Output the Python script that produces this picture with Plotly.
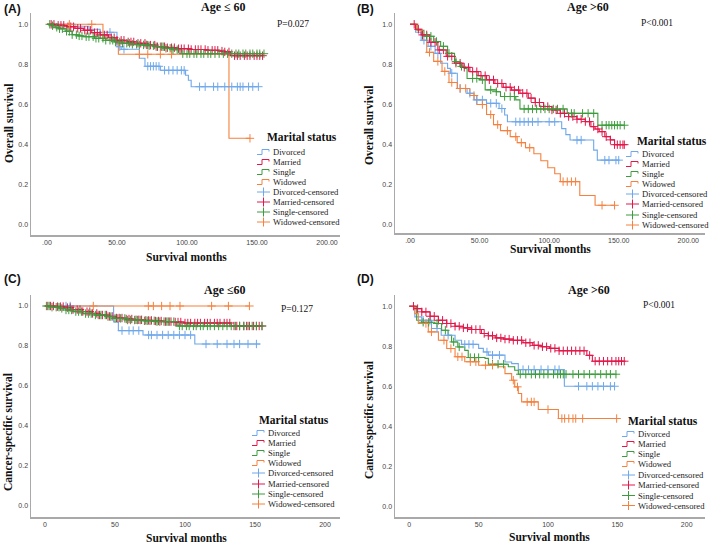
import numpy as np
import plotly.graph_objects as go

W, H = 709, 544

groups = ["Divorced", "Married", "Single", "Widowed"]
legend_labels = ["Divorced", "Married", "Single", "Widowed",
                 "Divorced-censored", "Married-censored", "Single-censored", "Widowed-censored"]
colors = {"Divorced": "#6fa8ea", "Married": "#e0184a", "Single": "#3c9c3c", "Widowed": "#f5813f"}

# ---------------- Panel A: Overall survival, Age <= 60 ----------------
A_div_t = [0, 20, 30, 38, 50, 53, 66, 70, 81, 99, 101, 103]
A_div_s = [1.0, 0.99, 0.975, 0.96, 0.888, 0.875, 0.83, 0.79, 0.77, 0.745, 0.72, 0.688]
A_div_end = 151
A_div_c = [45, 52, 55, 72, 74, 76, 78, 80, 84, 87, 90, 93, 96, 98, 109, 113, 119, 122, 127, 132, 136, 138, 140, 144, 147, 151]

A_mar_t = [0, 7, 14, 20, 26, 32, 38, 44, 50, 57, 64, 71, 78, 85, 93, 103, 114, 123, 127, 131]
A_mar_s = [1.0, 0.995, 0.988, 0.98, 0.97, 0.958, 0.947, 0.933, 0.92, 0.912, 0.905, 0.896, 0.888, 0.883, 0.878, 0.874, 0.87, 0.866, 0.862, 0.843]
A_mar_end = 154
A_mar_c = [3, 5, 8, 10, 12, 15, 17, 19, 22, 24, 27, 29, 31, 34, 36, 38, 41, 43, 46, 48, 50, 53, 55, 58, 60, 62,
           65, 67, 70, 72, 74, 77, 79, 82, 84, 86, 89, 91, 94, 96, 98, 101, 103, 106, 108, 110, 113, 115, 118,
           120, 122, 125, 127, 130, 134, 136, 138, 141, 143, 145, 148, 150, 152, 154]

A_sin_t = [0, 3, 6, 9, 13, 18, 22, 26, 34, 42, 48, 54, 60, 66, 72, 78, 84, 90, 95]
A_sin_s = [1.0, 0.993, 0.985, 0.978, 0.965, 0.948, 0.942, 0.938, 0.93, 0.92, 0.912, 0.905, 0.9, 0.897, 0.893, 0.888, 0.88, 0.873, 0.853]
A_sin_end = 155
A_sin_c = [2, 4, 7, 9, 11, 14, 16, 18, 21, 23, 25, 28, 30, 33, 35, 37, 40, 42, 45, 47, 49, 52, 54, 57, 59, 61,
           64, 66, 69, 71, 73, 76, 78, 81, 83, 85, 88, 90, 93, 97, 100, 102, 105, 107, 110, 112, 115, 117, 120,
           123, 126, 129, 132, 135, 137, 140, 142, 145, 147, 150, 152, 155]

A_wid_t = [0, 40, 51, 130]
A_wid_s = [1.0, 0.92, 0.85, 0.43]
A_wid_end = 145
A_wid_c = [16, 32, 66, 72, 81, 89, 145]

# ---------------- Panel B: Overall survival, Age > 60 ----------------
B_div_t = [0, 4, 8, 13, 18, 22, 27, 29, 34, 41, 46, 55, 64, 68, 70, 109, 112, 115, 132, 134.6]
B_div_s = [1.0, 0.96, 0.92, 0.89, 0.855, 0.806, 0.78, 0.756, 0.68, 0.656, 0.623, 0.606, 0.58, 0.548, 0.514, 0.48, 0.45, 0.423, 0.373, 0.323]
B_div_end = 150
B_div_c = [10, 15, 20, 30, 36, 43, 48, 52, 58, 62, 66, 76, 79, 82, 85, 88, 92, 100, 104, 120, 123, 140, 143, 148, 150]

B_mar_t = [0, 4, 8, 14, 20, 26, 32, 38, 43, 49, 55, 61, 67, 73, 79, 85, 90, 96, 102, 108, 114, 120, 126, 130, 133, 136, 140, 144, 147]
B_mar_s = [1.0, 0.975, 0.947, 0.91, 0.872, 0.84, 0.806, 0.785, 0.764, 0.744, 0.723, 0.705, 0.686, 0.672, 0.656, 0.632, 0.61,
           0.59, 0.573, 0.556, 0.54, 0.527, 0.515, 0.49, 0.478, 0.465, 0.44, 0.424, 0.4]
B_mar_end = 154
B_mar_c = [3, 6, 9, 12, 15, 18, 21, 24, 27, 30, 33, 36, 39, 42, 45, 48, 51, 54, 57, 60, 63, 66, 69, 72, 75, 78, 81,
           84, 87, 90, 93, 96, 99, 102, 105, 108, 111, 114, 117, 120, 123, 126, 129, 132, 135, 138, 141, 144, 147,
           149, 151, 153, 154]

B_sin_t = [0, 5, 10, 17, 22, 27, 32, 36, 39, 41, 50, 54, 62, 65, 76, 79, 113, 135]
B_sin_s = [1.0, 0.97, 0.94, 0.914, 0.89, 0.855, 0.814, 0.79, 0.78, 0.73, 0.723, 0.673, 0.664, 0.64, 0.623, 0.578, 0.556, 0.497]
B_sin_end = 154
B_sin_c = [12, 15, 19, 24, 28, 33, 37, 45, 48, 52, 58, 62, 68, 72, 75, 82, 85, 88, 91, 94, 97, 100, 103, 106, 110,
           116, 118, 124, 128, 132, 138, 141, 143, 145, 147, 149, 151, 154]

B_wid_t = [0, 5, 9, 12, 17, 23, 28, 34, 43, 48, 55, 60, 65, 72, 77, 83, 89, 94, 99, 104, 108, 122, 133]
B_wid_s = [1.0, 0.97, 0.92, 0.86, 0.815, 0.765, 0.71, 0.68, 0.645, 0.6, 0.55, 0.5, 0.47, 0.44, 0.41, 0.385, 0.355,
           0.32, 0.285, 0.255, 0.216, 0.147, 0.098]
B_wid_end = 147
B_wid_c = [14, 20, 25, 30, 36, 40, 46, 52, 58, 63, 70, 76, 80, 86, 110, 113, 116, 119, 138, 147]

# ---------------- Panel C: Cancer-specific survival, Age <= 60 ----------------
C_div_t = [0, 49, 52.4, 70, 107]
C_div_s = [1.0, 0.92, 0.877, 0.855, 0.81]
C_div_end = 153.6
C_div_c = [15, 18, 55, 60, 63, 67, 74, 76, 80, 84, 88, 92, 96, 100, 104, 115, 123, 130, 135, 139, 145, 151]

C_mar_t = [0, 8, 15, 20, 27, 33, 39, 45, 51, 57, 63, 70, 77, 85, 92, 99, 133]
C_mar_s = [1.0, 0.997, 0.992, 0.982, 0.972, 0.963, 0.955, 0.948, 0.94, 0.935, 0.931, 0.928, 0.925, 0.922, 0.92, 0.915, 0.9]
C_mar_end = 155
C_mar_c = [2, 4, 6, 9, 11, 13, 16, 18, 20, 23, 25, 27, 30, 32, 34, 37, 39, 41, 44, 46, 48, 51, 53, 55, 58, 60, 62,
           65, 67, 69, 72, 74, 76, 79, 81, 83, 86, 88, 90, 93, 95, 97, 100, 102, 104, 107, 109, 111, 114, 116, 118,
           121, 123, 125, 128, 130, 132, 135, 137, 139, 142, 144, 146, 149, 151, 153, 155]

C_sin_t = [0, 5, 10.7, 15, 20, 27, 35, 44, 50, 58.8, 70, 80, 94]
C_sin_s = [1.0, 0.994, 0.988, 0.98, 0.972, 0.962, 0.955, 0.947, 0.938, 0.93, 0.926, 0.922, 0.9]
C_sin_end = 155
C_sin_c = [1, 3, 5, 8, 10, 12, 15, 17, 19, 22, 24, 26, 29, 31, 33, 36, 38, 40, 43, 45, 47, 50, 52, 54, 57, 59, 61,
           64, 66, 68, 71, 73, 75, 78, 80, 82, 85, 87, 89, 92, 96, 98, 101, 103, 106, 108, 111, 113, 116, 118, 121,
           124, 127, 130, 133, 136, 139, 142, 145, 148, 151, 155]

C_wid_t = [0]
C_wid_s = [1.0]
C_wid_end = 146
C_wid_c = [34.5, 73.8, 77.4, 83.3, 89.3, 96.4, 119, 131, 146]

# ---------------- Panel D: Cancer-specific survival, Age > 60 ----------------
D_div_t = [0, 4, 9, 16, 23, 33, 37.7, 50, 53.4, 57, 69, 73.8, 78.6, 111.8]
D_div_s = [1.0, 0.947, 0.93, 0.889, 0.855, 0.83, 0.81, 0.79, 0.772, 0.756, 0.722, 0.714, 0.684, 0.601]
D_div_end = 148
D_div_c = [10, 15, 20, 28, 40, 43, 46, 56, 60, 65, 82, 86, 90, 95, 100, 105, 108, 122, 128, 132, 136, 140, 145, 148]

D_mar_t = [0, 4, 9, 15, 21, 27, 33, 39, 45, 52, 57, 62, 68, 75, 82, 89, 95, 101, 108, 128, 132]
D_mar_s = [1.0, 0.988, 0.972, 0.95, 0.93, 0.914, 0.9, 0.892, 0.884, 0.864, 0.853, 0.842, 0.836, 0.83, 0.818, 0.805,
           0.798, 0.79, 0.778, 0.755, 0.726]
D_mar_end = 155
D_mar_c = [3, 6, 9, 12, 15, 18, 21, 24, 27, 30, 33, 36, 39, 42, 45, 48, 51, 54, 57, 60, 63, 66, 69, 72, 75, 78, 81,
           84, 87, 90, 93, 96, 99, 102, 105, 108, 111, 114, 117, 120, 123, 126, 130, 134, 137, 140, 143, 146, 149,
           151, 153, 155]

D_sin_t = [0, 5.3, 8.9, 18.5, 23.3, 28, 30.5, 35, 40, 42.5, 54.6, 57, 71.4, 76, 78.6]
D_sin_s = [1.0, 0.93, 0.92, 0.914, 0.88, 0.855, 0.822, 0.797, 0.78, 0.744, 0.74, 0.711, 0.698, 0.681, 0.661]
D_sin_end = 149.5
D_sin_c = [10, 14, 20, 26, 32, 36, 44, 47, 50, 60, 64, 68, 80, 84, 88, 91, 94, 97, 100, 104, 107, 109, 111, 113,
           118, 122, 126, 130, 134, 138, 142, 145, 149]

D_wid_t = [0, 4, 6.5, 13.7, 21, 27, 33, 40, 50, 64, 69, 73.8, 76, 78.6, 81, 93, 107.5]
D_wid_s = [1.0, 0.963, 0.914, 0.872, 0.83, 0.789, 0.748, 0.723, 0.706, 0.698, 0.664, 0.631, 0.598, 0.565, 0.523, 0.485, 0.44]
D_wid_end = 149.5
D_wid_c = [12, 16, 25, 30, 35, 38, 44, 48, 55, 60, 75, 78, 85, 88, 90, 100, 110, 112, 115, 118, 120, 125, 149.5]

# tick labels
ab_xticks = [0, 50, 100, 150, 200]
ab_xlabels = [".00", "50.00", "100.00", "150.00", "200.00"]
cd_xlabels = ["0", "50", "100", "150", "200"]
yticks = [0.0, 0.2, 0.4, 0.6, 0.8, 1.0]
ylabels = ["0.0", "0.2", "0.4", "0.6", "0.8", "1.0"]

panels = [
    dict(label="(A)", title="Age ≤ 60", p="P=0.027", ytitle="Overall survival", xlabels=ab_xlabels,
         curves={"Divorced": (A_div_t, A_div_s, A_div_end, A_div_c), "Married": (A_mar_t, A_mar_s, A_mar_end, A_mar_c),
                 "Single": (A_sin_t, A_sin_s, A_sin_end, A_sin_c), "Widowed": (A_wid_t, A_wid_s, A_wid_end, A_wid_c)},
         box=(31, 13, 340, 235), xr=(-11.4, 209.3), yr=(-0.0535, 1.0565),
         lab=(3, 9), tit=(223.5, 7), pv=(293, 24), xt=(186, 257), yt=(9, 123),
         leg_title=(302, 137), leg_y=[152, 162, 172, 182, 192, 202, 212, 222], leg_x=257),
    dict(label="(B)", title="Age >60", p="P<0.001", ytitle="Overall survival", xlabels=ab_xlabels,
         curves={"Divorced": (B_div_t, B_div_s, B_div_end, B_div_c), "Married": (B_mar_t, B_mar_s, B_mar_end, B_mar_c),
                 "Single": (B_sin_t, B_sin_s, B_sin_end, B_sin_c), "Widowed": (B_wid_t, B_wid_s, B_wid_end, B_wid_c)},
         box=(395, 13, 705, 233), xr=(-10.8, 212), yr=(-0.04, 1.056),
         lab=(356, 9), tit=(587.5, 7), pv=(656.5, 23), xt=(550, 249), yt=(369, 125),
         leg_title=(672, 141), leg_y=[154, 164, 174, 184, 194, 204, 215, 225], leg_x=626),
    dict(label="(C)", title="Age ≤60", p="P=0.127", ytitle="Cancer-specific survival", xlabels=cd_xlabels,
         curves={"Divorced": (C_div_t, C_div_s, C_div_end, C_div_c), "Married": (C_mar_t, C_mar_s, C_mar_end, C_mar_c),
                 "Single": (C_sin_t, C_sin_s, C_sin_end, C_sin_c), "Widowed": (C_wid_t, C_wid_s, C_wid_end, C_wid_c)},
         box=(31, 295, 340, 517), xr=(-10, 210.7), yr=(-0.055, 1.055),
         lab=(3, 279), tit=(224.5, 289.5), pv=(296.5, 308.5), xt=(186, 537.5), yt=(8, 432),
         leg_title=(294, 420), leg_y=[433, 443, 453, 463, 473, 484, 494, 504], leg_x=252),
    dict(label="(D)", title="Age >60", p="P<0.001", ytitle="Cancer-specific survival", xlabels=cd_xlabels,
         curves={"Divorced": (D_div_t, D_div_s, D_div_end, D_div_c), "Married": (D_mar_t, D_mar_s, D_mar_end, D_mar_c),
                 "Single": (D_sin_t, D_sin_s, D_sin_end, D_sin_c), "Widowed": (D_wid_t, D_wid_s, D_wid_end, D_wid_c)},
         box=(395, 295, 705, 517), xr=(-10.3, 213.2), yr=(-0.051, 1.056),
         lab=(356, 279), tit=(588.5, 289.5), pv=(659, 305), xt=(549.5, 536.5), yt=(369, 420),
         leg_title=(663, 421), leg_y=[434, 444, 454, 464, 475, 485, 495.5, 505.5], leg_x=622),
]


def px(x):
    return x / W


def py(y):
    return 1 - y / H


fig = go.Figure()
annotations = []
shapes = []
SERIF = "Liberation Serif, Times New Roman, serif"
SANS = "Liberation Sans, Arial, sans-serif"

for i, P in enumerate(panels):
    n = "" if i == 0 else str(i + 1)
    xa, ya = "x" + n, "y" + n
    x0, y0, x1, y1 = P["box"]
    axis_common = dict(showgrid=False, zeroline=False, showline=True, linecolor="#a9a9a9", linewidth=1.5,
                       ticks="", tickfont=dict(family=SANS, size=7, color="#444444"), mirror=False, fixedrange=True)
    fig.layout["xaxis" + n] = dict(domain=[px(x0), px(x1)], range=list(P["xr"]), anchor=ya,
                                   tickvals=ab_xticks, ticktext=P["xlabels"], **axis_common)
    fig.layout["yaxis" + n] = dict(domain=[py(y1), py(y0)], range=list(P["yr"]), anchor=xa,
                                   tickvals=yticks, ticktext=ylabels, **axis_common)

    for g in groups:
        t, s, end, cens = P["curves"][g]
        xs = list(t) + [end]
        ys = list(s) + [s[-1]]
        fig.add_trace(go.Scatter(x=xs, y=ys, mode="lines", line=dict(color=colors[g], width=1.1, shape="hv"),
                                 xaxis=xa, yaxis=ya, showlegend=False, hoverinfo="skip"))
    for g in groups:
        t, s, end, cens = P["curves"][g]
        idx = np.searchsorted(np.array(t, dtype=float), np.array(cens, dtype=float), side="right") - 1
        cy = np.array(s)[np.clip(idx, 0, len(s) - 1)]
        fig.add_trace(go.Scatter(x=cens, y=cy, mode="markers",
                                 marker=dict(symbol="cross-thin", size=6, line=dict(color=colors[g], width=1)),
                                 xaxis=xa, yaxis=ya, showlegend=False, hoverinfo="skip"))

    # texts
    annotations.append(dict(text="<b>" + P["label"] + "</b>", x=px(P["lab"][0]), y=py(P["lab"][1]),
                            xanchor="left", yanchor="middle", font=dict(family=SANS, size=12, color="#111")))
    annotations.append(dict(text="<b>" + P["title"] + "</b>", x=px(P["tit"][0]), y=py(P["tit"][1]),
                            xanchor="center", yanchor="middle", font=dict(family=SERIF, size=12, color="#111")))
    annotations.append(dict(text=P["p"], x=px(P["pv"][0]), y=py(P["pv"][1]),
                            xanchor="center", yanchor="middle", font=dict(family=SERIF, size=9.5, color="#111")))
    annotations.append(dict(text="<b>Survival months</b>", x=px(P["xt"][0]), y=py(P["xt"][1]),
                            xanchor="center", yanchor="middle", font=dict(family=SERIF, size=11.5, color="#111")))
    annotations.append(dict(text="<b>" + P["ytitle"] + "</b>", x=px(P["yt"][0]), y=py(P["yt"][1]), textangle=-90,
                            xanchor="center", yanchor="middle", font=dict(family=SERIF, size=11.5, color="#111")))
    # legend
    annotations.append(dict(text="<b>Marital status</b>", x=px(P["leg_title"][0]), y=py(P["leg_title"][1]),
                            xanchor="center", yanchor="middle", font=dict(family=SERIF, size=11.5, color="#111")))
    lx = P["leg_x"]
    for k, lab in enumerate(legend_labels):
        g = groups[k % 4]
        yy = P["leg_y"][k]
        annotations.append(dict(text=lab, x=px(lx + 14.5), y=py(yy), xanchor="left", yanchor="middle",
                                font=dict(family=SERIF, size=8.6, color="#222")))
        if k < 4:
            path = "M {a},{b} L {c},{b} L {c},{d} L {e},{d} L {e},{f}".format(
                a=px(lx), b=py(yy + 2.5), c=px(lx + 5), d=py(yy - 2.5), e=px(lx + 12), f=py(yy - 0.5))
            shapes.append(dict(type="path", path=path, xref="paper", yref="paper",
                               line=dict(color=colors[g], width=1)))
        else:
            shapes.append(dict(type="line", xref="paper", yref="paper", x0=px(lx), x1=px(lx + 13),
                               y0=py(yy), y1=py(yy), line=dict(color=colors[g], width=1)))
            shapes.append(dict(type="line", xref="paper", yref="paper", x0=px(lx + 6.5), x1=px(lx + 6.5),
                               y0=py(yy - 4.5), y1=py(yy + 4.5), line=dict(color=colors[g], width=1)))

for a in annotations:
    a.update(xref="paper", yref="paper", showarrow=False, borderpad=0)

fig.update_layout(width=W, height=H, margin=dict(l=0, r=0, t=0, b=0), paper_bgcolor="white",
                  plot_bgcolor="white", showlegend=False, annotations=annotations, shapes=shapes)

fig.write_html("out.html", config={"displayModeBar": False, "staticPlot": True},
               post_script="document.body.style.margin='0';document.body.style.overflow='hidden';")
